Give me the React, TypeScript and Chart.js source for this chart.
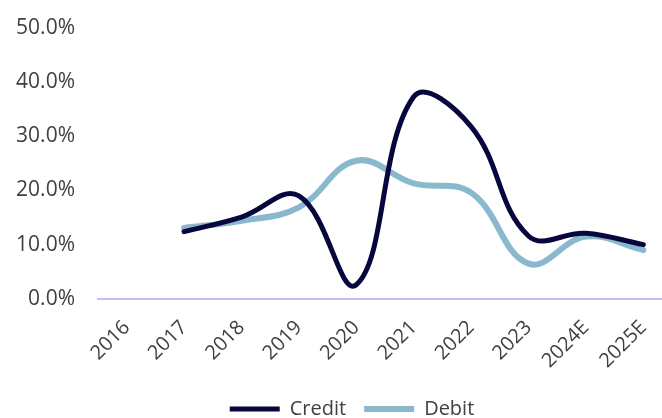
import { useEffect, useRef } from "react";
import { Chart, registerables } from "chart.js";

Chart.register(...registerables);

const categories = ["2016", "2017", "2018", "2019", "2020", "2021", "2022", "2023", "2024E", "2025E"];
const creditValues = [null, 12.4, 15.1, 19.0, 2.6, 37.3, 31.8, 11.6, 12.1, 10.0];
const debitValues = [null, 13.1, 14.4, 16.9, 25.5, 21.3, 19.6, 6.5, 11.5, 9.0];
const yMin = 0;
const yMax = 50;
const yStep = 10;

const FONT = "'Open Sans', 'Noto Sans', sans-serif";
const TEXT = "#404040";

const legendShift = {
  id: "legendShift",
  afterLayout(chart: any) {
    const lg = chart.legend;
    if (!lg) return;
    lg.left += 8;
    lg.right += 8;
    lg.top -= 9;
    lg.bottom -= 9;
  },
};

export default function App() {
  const ref = useRef<HTMLCanvasElement | null>(null);

  useEffect(() => {
    if (!ref.current) return;
    const chart = new Chart(ref.current, {
      type: "line",
      data: {
        labels: categories,
        datasets: [
          {
            label: "Credit",
            data: creditValues,
            borderColor: "#07073d",
            backgroundColor: "#07073d",
            borderWidth: 5,
            borderCapStyle: "round",
            pointRadius: 0,
            pointStyle: "line",
            tension: 0.4,
            spanGaps: false,
          },
          {
            label: "Debit",
            data: debitValues,
            borderColor: "#8ab9cd",
            backgroundColor: "#8ab9cd",
            borderWidth: 6,
            borderCapStyle: "round",
            pointRadius: 0,
            pointStyle: "line",
            tension: 0.4,
            spanGaps: false,
          },
        ],
      },
      options: {
        responsive: false,
        animation: false,
        layout: { padding: { top: 28, left: 16, right: 32, bottom: -20 } },
        plugins: {
          tooltip: { enabled: false },
          legend: {
            position: "bottom",
            labels: {
              usePointStyle: true,
              pointStyleWidth: 50,
              padding: 18,
              color: TEXT,
              font: { family: FONT, size: 20 },
            },
          },
        },
        scales: {
          x: {
            offset: true,
            grid: { display: false, drawTicks: false },
            border: { display: true, color: "#bfbfff", width: 2 },
            afterFit: (s: any) => {
              s.paddingLeft = 0;
              s.paddingRight = 0;
            },
            ticks: {
              color: TEXT,
              font: { family: FONT, size: 20 },
              minRotation: 45,
              maxRotation: 45,
              autoSkip: false,
              padding: 17,
            },
          },
          y: {
            min: yMin,
            max: yMax,
            grid: { display: false, drawTicks: false },
            border: { display: false },
            afterFit: (s: any) => {
              s.paddingTop = 0;
              s.paddingBottom = 0;
              s.paddingLeft = 0;
              s.width = 82;
            },
            ticks: {
              stepSize: yStep,
              color: TEXT,
              font: { family: FONT, size: 21 },
              padding: 23,
              callback: (v: any) => `${Number(v).toFixed(1)}%`,
            },
          },
        },
      },
      plugins: [legendShift],
    });
    return () => chart.destroy();
  }, []);

  return (
    <div style={{ position: "absolute", left: 0, top: 0, width: 662, height: 418, overflow: "hidden", background: "#fff" }}>
      <canvas ref={ref} width={704} height={418} style={{ width: 704, height: 418, display: "block" }} />
    </div>
  );
}
